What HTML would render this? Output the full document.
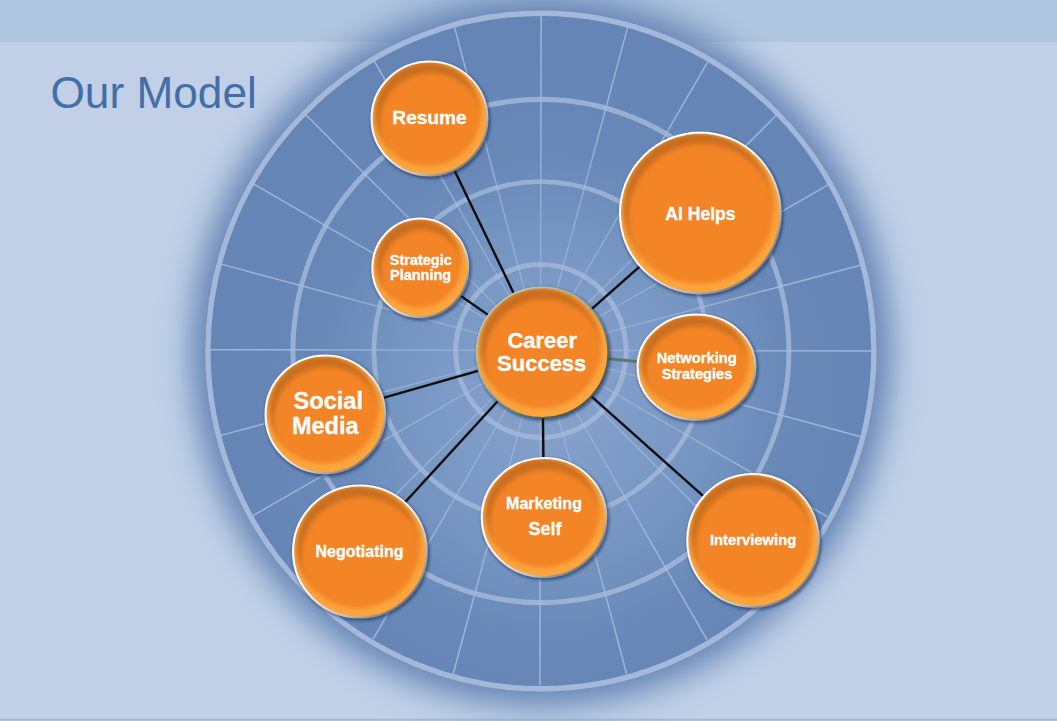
<!DOCTYPE html>
<html><head><meta charset="utf-8"><title>Our Model</title>
<style>
html,body{margin:0;padding:0;background:#c1d0e7;}
body{width:1057px;height:721px;overflow:hidden;position:relative;font-family:"Liberation Sans",Arial,sans-serif;}
svg{position:absolute;left:0;top:0;display:block}
text{font-family:"Liberation Sans",Arial,sans-serif;}
.lbl{font-weight:bold;fill:#fff;text-anchor:middle;stroke:#fff;stroke-width:0.3px}
</style></head><body>
<svg width="1057" height="721" viewBox="0 0 1057 721">
<defs>
<radialGradient id="glow" cx="0.5" cy="0.5" r="0.5">
<stop offset="0" stop-color="#6485b5" stop-opacity="1"/>
<stop offset="0.7726" stop-color="#6485b5" stop-opacity="1"/>
<stop offset="0.7776" stop-color="#6485b5" stop-opacity="0.997"/>
<stop offset="0.7877" stop-color="#6485b5" stop-opacity="0.994"/>
<stop offset="0.7978" stop-color="#6485b5" stop-opacity="0.987"/>
<stop offset="0.8079" stop-color="#6485b5" stop-opacity="0.976"/>
<stop offset="0.8180" stop-color="#6485b5" stop-opacity="0.956"/>
<stop offset="0.8282" stop-color="#6485b5" stop-opacity="0.926"/>
<stop offset="0.8383" stop-color="#6485b5" stop-opacity="0.882"/>
<stop offset="0.8484" stop-color="#6485b5" stop-opacity="0.821"/>
<stop offset="0.8585" stop-color="#6485b5" stop-opacity="0.745"/>
<stop offset="0.8686" stop-color="#6485b5" stop-opacity="0.653"/>
<stop offset="0.8787" stop-color="#6485b5" stop-opacity="0.552"/>
<stop offset="0.8888" stop-color="#6485b5" stop-opacity="0.448"/>
<stop offset="0.8989" stop-color="#6485b5" stop-opacity="0.347"/>
<stop offset="0.9090" stop-color="#6485b5" stop-opacity="0.255"/>
<stop offset="0.9191" stop-color="#6485b5" stop-opacity="0.179"/>
<stop offset="0.9292" stop-color="#6485b5" stop-opacity="0.118"/>
<stop offset="0.9393" stop-color="#6485b5" stop-opacity="0.074"/>
<stop offset="0.9495" stop-color="#6485b5" stop-opacity="0.044"/>
<stop offset="0.9596" stop-color="#6485b5" stop-opacity="0.024"/>
<stop offset="0.9697" stop-color="#6485b5" stop-opacity="0.013"/>
<stop offset="0.9798" stop-color="#6485b5" stop-opacity="0.006"/>
<stop offset="0.9899" stop-color="#6485b5" stop-opacity="0.000"/>
<stop offset="1.0000" stop-color="#6485b5" stop-opacity="0.000"/>
</radialGradient>
<radialGradient id="disc" gradientUnits="userSpaceOnUse" cx="12" cy="45" r="330">
<stop offset="0" stop-color="#87a3cc"/>
<stop offset="0.25" stop-color="#7f9cc8"/>
<stop offset="0.5" stop-color="#7494c1"/>
<stop offset="0.72" stop-color="#6889b8"/>
<stop offset="0.9" stop-color="#6586b6"/>
<stop offset="1" stop-color="#6485b5"/>
</radialGradient>
<linearGradient id="bevd" x1="0.27" y1="0.04" x2="0.73" y2="0.96">
<stop offset="0" stop-color="#a85408" stop-opacity="0.6"/>
<stop offset="0.25" stop-color="#a85408" stop-opacity="0.52"/>
<stop offset="0.42" stop-color="#b05a0c" stop-opacity="0.35"/>
<stop offset="0.55" stop-color="#b86010" stop-opacity="0.1"/>
<stop offset="0.62" stop-color="#b86010" stop-opacity="0"/>
<stop offset="1" stop-color="#b86010" stop-opacity="0"/>
</linearGradient>
<linearGradient id="bevl" x1="0.27" y1="0.04" x2="0.73" y2="0.96">
<stop offset="0" stop-color="#ffb24a" stop-opacity="0"/>
<stop offset="0.5" stop-color="#ffb24a" stop-opacity="0"/>
<stop offset="0.6" stop-color="#ffb24a" stop-opacity="0.2"/>
<stop offset="0.68" stop-color="#ffb24a" stop-opacity="0.55"/>
<stop offset="0.77" stop-color="#ffb44c" stop-opacity="0.88"/>
<stop offset="0.9" stop-color="#ffbc55" stop-opacity="1"/>
<stop offset="1" stop-color="#ffbc55" stop-opacity="1"/>
</linearGradient>
<linearGradient id="rim" x1="0.16" y1="0.12" x2="0.84" y2="0.88">
<stop offset="0" stop-color="#ffffff"/>
<stop offset="0.5" stop-color="#f2f2f2"/>
<stop offset="0.8" stop-color="#bdbdbd"/>
<stop offset="1" stop-color="#7a7a7a"/>
</linearGradient>
<linearGradient id="rimc" x1="0.16" y1="0.12" x2="0.84" y2="0.88">
<stop offset="0" stop-color="#b4cdbf"/>
<stop offset="0.45" stop-color="#93ad9f"/>
<stop offset="0.75" stop-color="#5f7567"/>
<stop offset="1" stop-color="#46554b"/>
</linearGradient>
<radialGradient id="spk" gradientUnits="userSpaceOnUse" cx="0" cy="0" r="340">
<stop offset="0" stop-color="#a9bddd" stop-opacity="0.5"/>
<stop offset="0.3" stop-color="#a9bddd" stop-opacity="0.52"/>
<stop offset="0.5" stop-color="#a9bddd" stop-opacity="0.64"/>
<stop offset="0.72" stop-color="#a9bddd" stop-opacity="0.8"/>
<stop offset="1" stop-color="#a9bddd" stop-opacity="0.85"/>
</radialGradient>
<filter id="sh" x="-20%" y="-20%" width="140%" height="140%">
<feGaussianBlur stdDeviation="1.8"/>
</filter>
<filter id="bl2" x="-10%" y="-10%" width="120%" height="120%">
<feGaussianBlur stdDeviation="2.1"/>
</filter>
<filter id="bl3" x="-10%" y="-10%" width="120%" height="120%">
<feGaussianBlur stdDeviation="2.8"/>
</filter>
<filter id="bl" x="-10%" y="-10%" width="120%" height="120%">
<feGaussianBlur stdDeviation="1.7"/>
</filter>
</defs>
<rect x="0" y="0" width="1057" height="721" fill="#c1d0e7"/>
<rect x="0" y="0" width="1057" height="42" fill="#b0c5df"/>
<rect x="0" y="718.6" width="1057" height="1.4" fill="#a8b9d5"/>
<rect x="0" y="720" width="1057" height="1" fill="#b1c1dc"/>

<g transform="translate(540.9,351) scale(1,1.0145)">
<circle r="395.7" fill="url(#glow)"/>
<circle r="335.7" fill="url(#disc)"/>
</g>
<g transform="translate(540.5,350.3) rotate(0.1)" stroke="url(#spk)" stroke-width="1.5">
<line x1="0" y1="0" x2="0.00" y2="-335.29"/>
<line x1="0" y1="0" x2="86.70" y2="-323.55"/>
<line x1="0" y1="0" x2="167.04" y2="-289.32"/>
<line x1="0" y1="0" x2="235.37" y2="-235.37"/>
<line x1="0" y1="0" x2="287.24" y2="-165.84"/>
<line x1="0" y1="0" x2="319.54" y2="-85.62"/>
<line x1="0" y1="0" x2="330.50" y2="-0.00"/>
<line x1="0" y1="0" x2="319.54" y2="85.62"/>
<line x1="0" y1="0" x2="287.24" y2="165.84"/>
<line x1="0" y1="0" x2="235.37" y2="235.37"/>
<line x1="0" y1="0" x2="167.04" y2="289.32"/>
<line x1="0" y1="0" x2="86.70" y2="323.55"/>
<line x1="0" y1="0" x2="0.00" y2="335.29"/>
<line x1="0" y1="0" x2="-86.70" y2="323.55"/>
<line x1="0" y1="0" x2="-167.04" y2="289.32"/>
<line x1="0" y1="0" x2="-235.37" y2="235.37"/>
<line x1="0" y1="0" x2="-287.24" y2="165.84"/>
<line x1="0" y1="0" x2="-319.54" y2="85.62"/>
<line x1="0" y1="0" x2="-330.50" y2="0.00"/>
<line x1="0" y1="0" x2="-319.54" y2="-85.62"/>
<line x1="0" y1="0" x2="-287.24" y2="-165.84"/>
<line x1="0" y1="0" x2="-235.37" y2="-235.37"/>
<line x1="0" y1="0" x2="-167.04" y2="-289.32"/>
<line x1="0" y1="0" x2="-86.70" y2="-323.55"/>
</g>
<g transform="translate(540.9,351) scale(1,1.0145)" fill="none" stroke="#a9bddd">
<circle r="85.2" stroke-width="5" stroke-opacity="0.7"/>
<circle r="167" stroke-width="4.8" stroke-opacity="0.7"/>
<circle r="248" stroke-width="5" stroke-opacity="0.76"/>
<circle r="333" stroke-width="5.4" stroke-opacity="0.92"/>
</g>
<g stroke="#0d0d0d" stroke-width="2.4" stroke-linecap="butt">
<line x1="542.3" y1="352.6" x2="429.5" y2="118.5"/>
<line x1="542.3" y1="352.6" x2="420.3" y2="267.8"/>
<line x1="542.3" y1="352.6" x2="700.3" y2="213"/>
<line x1="542.3" y1="352.6" x2="696.5" y2="367.2" stroke="#5d7868" stroke-width="3"/>
<line x1="542.3" y1="352.6" x2="753" y2="540.4"/>
<line x1="542.3" y1="352.6" x2="544" y2="517.5"/>
<line x1="542.3" y1="352.6" x2="359.9" y2="551.5"/>
<line x1="542.3" y1="352.6" x2="325.3" y2="414.4"/>
</g>
<g id="resume">
<clipPath id="c-resume"><ellipse cx="429.5" cy="118.5" rx="58.2" ry="57.2"/></clipPath>
<ellipse cx="430.7" cy="120.1" rx="59.6" ry="58.6" fill="#16264a" fill-opacity="0.6" filter="url(#sh)"/>
<g clip-path="url(#c-resume)">
<ellipse cx="429.5" cy="118.5" rx="59" ry="58" fill="#f38526"/>
<path d="M366.00,118.50a63.50,62.50 0 1,0 127.00,0a63.50,62.50 0 1,0 -127.00,0zM379.62,123.72a51.90,50.90 0 1,0 103.80,0a51.90,50.90 0 1,0 -103.80,0z" fill-rule="evenodd" fill="#8f4c14" fill-opacity="0.42" filter="url(#bl3)"/>
<path d="M366.00,118.50a63.50,62.50 0 1,0 127.00,0a63.50,62.50 0 1,0 -127.00,0zM374.94,114.21a52.90,51.90 0 1,0 105.80,0a52.90,51.90 0 1,0 -105.80,0z" fill-rule="evenodd" fill="#ffa840" fill-opacity="0.9" filter="url(#bl2)"/>
</g>
<ellipse cx="429.5" cy="118.5" rx="57.95" ry="56.95" fill="none" stroke="url(#rim)" stroke-width="2.1"/>
<text class="lbl" x="429.5" y="124.4" font-size="19.1">Resume</text>
</g>
<g id="strategic">
<clipPath id="c-strategic"><ellipse cx="420.3" cy="267.8" rx="48.2" ry="49.6"/></clipPath>
<ellipse cx="421.5" cy="269.40000000000003" rx="49.6" ry="51.0" fill="#16264a" fill-opacity="0.6" filter="url(#sh)"/>
<g clip-path="url(#c-strategic)">
<ellipse cx="420.3" cy="267.8" rx="49" ry="50.4" fill="#f38526"/>
<path d="M366.80,267.80a53.50,54.90 0 1,0 107.00,0a53.50,54.90 0 1,0 -107.00,0zM380.42,273.02a41.90,43.30 0 1,0 83.80,0a41.90,43.30 0 1,0 -83.80,0z" fill-rule="evenodd" fill="#8f4c14" fill-opacity="0.42" filter="url(#bl3)"/>
<path d="M366.80,267.80a53.50,54.90 0 1,0 107.00,0a53.50,54.90 0 1,0 -107.00,0zM375.74,263.51a42.90,44.30 0 1,0 85.80,0a42.90,44.30 0 1,0 -85.80,0z" fill-rule="evenodd" fill="#ffa840" fill-opacity="0.9" filter="url(#bl2)"/>
</g>
<ellipse cx="420.3" cy="267.8" rx="47.95" ry="49.35" fill="none" stroke="url(#rim)" stroke-width="2.1"/>
<text class="lbl" x="420.8" y="264.8" font-size="14.5">Strategic</text>
<text class="lbl" x="420.6" y="280.1" font-size="14.5">Planning</text>
</g>
<g id="ai">
<clipPath id="c-ai"><ellipse cx="700.3" cy="213" rx="80.60000000000001" ry="80.60000000000001"/></clipPath>
<ellipse cx="701.5" cy="214.6" rx="82.0" ry="82.0" fill="#16264a" fill-opacity="0.6" filter="url(#sh)"/>
<g clip-path="url(#c-ai)">
<ellipse cx="700.3" cy="213" rx="81.4" ry="81.4" fill="#f38526"/>
<path d="M614.40,213.00a85.90,85.90 0 1,0 171.80,0a85.90,85.90 0 1,0 -171.80,0zM628.02,218.22a74.30,74.30 0 1,0 148.60,0a74.30,74.30 0 1,0 -148.60,0z" fill-rule="evenodd" fill="#8f4c14" fill-opacity="0.42" filter="url(#bl3)"/>
<path d="M614.40,213.00a85.90,85.90 0 1,0 171.80,0a85.90,85.90 0 1,0 -171.80,0zM623.34,208.71a75.30,75.30 0 1,0 150.60,0a75.30,75.30 0 1,0 -150.60,0z" fill-rule="evenodd" fill="#ffa840" fill-opacity="0.9" filter="url(#bl2)"/>
</g>
<ellipse cx="700.3" cy="213" rx="80.35000000000001" ry="80.35000000000001" fill="none" stroke="url(#rim)" stroke-width="2.1"/>
<text class="lbl" x="700.4" y="219.5" font-size="17.6">AI Helps</text>
</g>
<g id="net">
<clipPath id="c-net"><ellipse cx="696.5" cy="367.2" rx="59.2" ry="52.900000000000006"/></clipPath>
<ellipse cx="697.7" cy="368.8" rx="60.6" ry="54.300000000000004" fill="#16264a" fill-opacity="0.6" filter="url(#sh)"/>
<g clip-path="url(#c-net)">
<ellipse cx="696.5" cy="367.2" rx="60" ry="53.7" fill="#f38526"/>
<path d="M632.00,367.20a64.50,58.20 0 1,0 129.00,0a64.50,58.20 0 1,0 -129.00,0zM645.62,372.42a52.90,46.60 0 1,0 105.80,0a52.90,46.60 0 1,0 -105.80,0z" fill-rule="evenodd" fill="#8f4c14" fill-opacity="0.42" filter="url(#bl3)"/>
<path d="M632.00,367.20a64.50,58.20 0 1,0 129.00,0a64.50,58.20 0 1,0 -129.00,0zM640.94,362.91a53.90,47.60 0 1,0 107.80,0a53.90,47.60 0 1,0 -107.80,0z" fill-rule="evenodd" fill="#ffa840" fill-opacity="0.9" filter="url(#bl2)"/>
</g>
<ellipse cx="696.5" cy="367.2" rx="58.95" ry="52.650000000000006" fill="none" stroke="url(#rim)" stroke-width="2.1"/>
<text class="lbl" x="696.7" y="363.2" font-size="14.7">Networking</text>
<text class="lbl" x="697" y="378.9" font-size="14.6">Strategies</text>
</g>
<g id="interview">
<clipPath id="c-interview"><ellipse cx="753" cy="540.4" rx="66.0" ry="66.60000000000001"/></clipPath>
<ellipse cx="754.2" cy="542.0" rx="67.39999999999999" ry="68.0" fill="#16264a" fill-opacity="0.6" filter="url(#sh)"/>
<g clip-path="url(#c-interview)">
<ellipse cx="753" cy="540.4" rx="66.8" ry="67.4" fill="#f38526"/>
<path d="M681.70,540.40a71.30,71.90 0 1,0 142.60,0a71.30,71.90 0 1,0 -142.60,0zM695.32,545.62a59.70,60.30 0 1,0 119.40,0a59.70,60.30 0 1,0 -119.40,0z" fill-rule="evenodd" fill="#8f4c14" fill-opacity="0.42" filter="url(#bl3)"/>
<path d="M681.70,540.40a71.30,71.90 0 1,0 142.60,0a71.30,71.90 0 1,0 -142.60,0zM690.64,536.11a60.70,61.30 0 1,0 121.40,0a60.70,61.30 0 1,0 -121.40,0z" fill-rule="evenodd" fill="#ffa840" fill-opacity="0.9" filter="url(#bl2)"/>
</g>
<ellipse cx="753" cy="540.4" rx="65.75" ry="66.35000000000001" fill="none" stroke="url(#rim)" stroke-width="2.1"/>
<text class="lbl" x="753.1" y="544.5" font-size="14.8">Interviewing</text>
</g>
<g id="marketing">
<clipPath id="c-marketing"><ellipse cx="544" cy="517.5" rx="62.5" ry="59.7"/></clipPath>
<ellipse cx="545.2" cy="519.1" rx="63.9" ry="61.1" fill="#16264a" fill-opacity="0.6" filter="url(#sh)"/>
<g clip-path="url(#c-marketing)">
<ellipse cx="544" cy="517.5" rx="63.3" ry="60.5" fill="#f38526"/>
<path d="M476.20,517.50a67.80,65.00 0 1,0 135.60,0a67.80,65.00 0 1,0 -135.60,0zM489.82,522.72a56.20,53.40 0 1,0 112.40,0a56.20,53.40 0 1,0 -112.40,0z" fill-rule="evenodd" fill="#8f4c14" fill-opacity="0.42" filter="url(#bl3)"/>
<path d="M476.20,517.50a67.80,65.00 0 1,0 135.60,0a67.80,65.00 0 1,0 -135.60,0zM485.14,513.21a57.20,54.40 0 1,0 114.40,0a57.20,54.40 0 1,0 -114.40,0z" fill-rule="evenodd" fill="#ffa840" fill-opacity="0.9" filter="url(#bl2)"/>
</g>
<ellipse cx="544" cy="517.5" rx="62.25" ry="59.45" fill="none" stroke="url(#rim)" stroke-width="2.1"/>
<text class="lbl" x="544" y="509.3" font-size="16.1">Marketing</text>
<text class="lbl" x="544.9" y="535.0" font-size="18">Self</text>
</g>
<g id="negotiating">
<clipPath id="c-negotiating"><ellipse cx="359.9" cy="551.5" rx="67.10000000000001" ry="66.2"/></clipPath>
<ellipse cx="361.09999999999997" cy="553.1" rx="68.5" ry="67.6" fill="#16264a" fill-opacity="0.6" filter="url(#sh)"/>
<g clip-path="url(#c-negotiating)">
<ellipse cx="359.9" cy="551.5" rx="67.9" ry="67" fill="#f38526"/>
<path d="M287.50,551.50a72.40,71.50 0 1,0 144.80,0a72.40,71.50 0 1,0 -144.80,0zM301.12,556.72a60.80,59.90 0 1,0 121.60,0a60.80,59.90 0 1,0 -121.60,0z" fill-rule="evenodd" fill="#8f4c14" fill-opacity="0.42" filter="url(#bl3)"/>
<path d="M287.50,551.50a72.40,71.50 0 1,0 144.80,0a72.40,71.50 0 1,0 -144.80,0zM296.44,547.21a61.80,60.90 0 1,0 123.60,0a61.80,60.90 0 1,0 -123.60,0z" fill-rule="evenodd" fill="#ffa840" fill-opacity="0.9" filter="url(#bl2)"/>
</g>
<ellipse cx="359.9" cy="551.5" rx="66.85000000000001" ry="65.95" fill="none" stroke="url(#rim)" stroke-width="2.1"/>
<text class="lbl" x="359.5" y="556.9" font-size="16">Negotiating</text>
</g>
<g id="social">
<clipPath id="c-social"><ellipse cx="325.3" cy="414.4" rx="60.0" ry="59.1"/></clipPath>
<ellipse cx="326.5" cy="416.0" rx="61.4" ry="60.5" fill="#16264a" fill-opacity="0.6" filter="url(#sh)"/>
<g clip-path="url(#c-social)">
<ellipse cx="325.3" cy="414.4" rx="60.8" ry="59.9" fill="#f38526"/>
<path d="M260.00,414.40a65.30,64.40 0 1,0 130.60,0a65.30,64.40 0 1,0 -130.60,0zM273.62,419.62a53.70,52.80 0 1,0 107.40,0a53.70,52.80 0 1,0 -107.40,0z" fill-rule="evenodd" fill="#8f4c14" fill-opacity="0.42" filter="url(#bl3)"/>
<path d="M260.00,414.40a65.30,64.40 0 1,0 130.60,0a65.30,64.40 0 1,0 -130.60,0zM268.94,410.11a54.70,53.80 0 1,0 109.40,0a54.70,53.80 0 1,0 -109.40,0z" fill-rule="evenodd" fill="#ffa840" fill-opacity="0.9" filter="url(#bl2)"/>
</g>
<ellipse cx="325.3" cy="414.4" rx="59.75" ry="58.85" fill="none" stroke="url(#rim)" stroke-width="2.1"/>
<text class="lbl" x="328.3" y="408.7" font-size="23.6">Social</text>
<text class="lbl" x="325.2" y="433.6" font-size="23.5">Media</text>
</g>
<g id="center">
<clipPath id="c-center"><ellipse cx="542.3" cy="352.6" rx="65.9" ry="65.2"/></clipPath>
<ellipse cx="543.5" cy="354.20000000000005" rx="67.3" ry="66.6" fill="#16264a" fill-opacity="0.6" filter="url(#sh)"/>
<g clip-path="url(#c-center)">
<ellipse cx="542.3" cy="352.6" rx="66.7" ry="66.0" fill="#f38526"/>
<path d="M471.10,352.60a71.20,70.50 0 1,0 142.40,0a71.20,70.50 0 1,0 -142.40,0zM484.72,357.82a59.60,58.90 0 1,0 119.20,0a59.60,58.90 0 1,0 -119.20,0z" fill-rule="evenodd" fill="#8f4c14" fill-opacity="0.42" filter="url(#bl3)"/>
<path d="M471.10,352.60a71.20,70.50 0 1,0 142.40,0a71.20,70.50 0 1,0 -142.40,0zM480.04,348.31a60.60,59.90 0 1,0 121.20,0a60.60,59.90 0 1,0 -121.20,0z" fill-rule="evenodd" fill="#ffa840" fill-opacity="0.9" filter="url(#bl2)"/>
</g>
<ellipse cx="542.3" cy="352.6" rx="65.85000000000001" ry="65.15" fill="none" stroke="url(#rimc)" stroke-width="1.7"/>
<text class="lbl" x="542.3" y="347.8" font-size="22">Career</text>
<text class="lbl" x="541.7" y="370.7" font-size="22">Success</text>
</g>
<text x="50.5" y="107.8" font-size="44.2" fill="#426fa8">Our Model</text>
</svg></body></html>
